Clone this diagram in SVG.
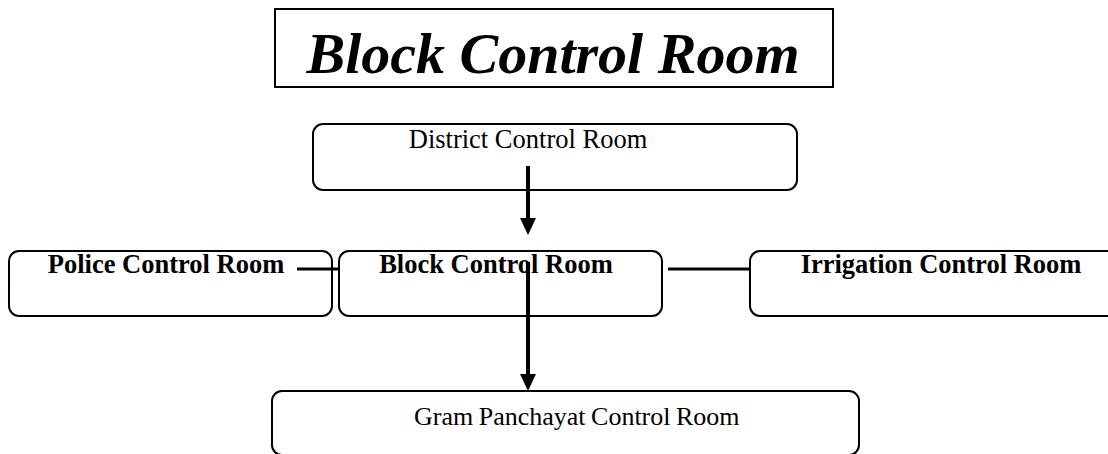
<svg xmlns="http://www.w3.org/2000/svg" width="1108" height="454" viewBox="0 0 1108 454">
<style>
.box{fill:#fff;stroke:#000;stroke-width:2}
.t{font-family:"Liberation Serif","Times New Roman",serif;font-size:26.5px;fill:#000}
.b{font-weight:bold}
.title{font-family:"Liberation Serif","Times New Roman",serif;font-size:58px;font-weight:bold;font-style:italic;fill:#000}
.ln{stroke:#000;stroke-width:3;fill:none}
.arr{stroke:#000;stroke-width:4;fill:none}
</style>
<defs>
<marker id="ah" markerUnits="userSpaceOnUse" markerWidth="17" markerHeight="16" refX="1" refY="8" orient="auto" viewBox="0 0 17 16">
<path d="M0,0 L17,8 L0,16 Z" fill="#000"/>
</marker>
</defs>
<rect width="1108" height="454" fill="#fff"/>
<g id="title">
<rect x="275" y="9" width="558" height="78" fill="#fff" stroke="#000" stroke-width="2"/>
<text class="title" x="553" y="73" text-anchor="middle">Block Control Room</text>
</g>
<g id="district">
<rect class="box" x="313" y="124" width="484" height="66" rx="10"/>
<text class="t" x="528" y="148" text-anchor="middle">District Control Room</text>
</g>
<g id="police">
<rect class="box" x="9" y="251" width="323" height="65" rx="10"/>
<text class="t b" x="166" y="273" text-anchor="middle">Police Control Room</text>
</g>
<g id="block">
<rect class="box" x="339" y="251" width="323" height="65" rx="10"/>
<text class="t b" x="496" y="273" text-anchor="middle">Block Control Room</text>
</g>
<g id="irrigation">
<rect class="box" x="750" y="251" width="370" height="65" rx="10"/>
<text class="t b" x="941" y="273" text-anchor="middle">Irrigation Control Room</text>
</g>
<g id="gram">
<rect class="box" x="272" y="391" width="587" height="64" rx="10"/>
<text class="t" x="414" y="425" style="font-size:26px;word-spacing:-1px">Gram Panchayat Control Room</text>
</g>
<g id="connectors">
<line class="arr" x1="528" y1="166" x2="528" y2="219" marker-end="url(#ah)"/>
<line class="ln" x1="297" y1="269" x2="339" y2="269"/>
<line class="ln" x1="668" y1="269" x2="750" y2="269"/>
<line class="arr" x1="528" y1="262" x2="528" y2="375" marker-end="url(#ah)"/>
</g>
</svg>
